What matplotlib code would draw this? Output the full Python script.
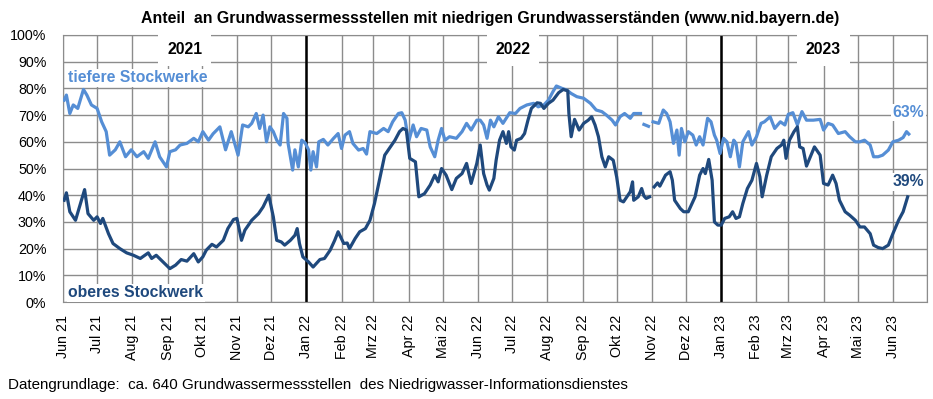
import numpy as np
import matplotlib
matplotlib.use('Agg')
import matplotlib.pyplot as plt
from matplotlib.ticker import FuncFormatter, MultipleLocator
import matplotlib.dates as mdates

plt.rcParams['font.family'] = ['Liberation Sans', 'DejaVu Sans']

start = np.datetime64('2021-06-01')

# tiefere Stockwerke: Tage seit 1.6.2021, Anteil in % (nan = Datenluecke)
tief_tag = [1, 3, 6, 9, 13, 18, 21, 25, 30, 34, 38, 41, 46, 50, 55, 60, 65, 71, 75, 81,
            85, 91, 94, 99, 103, 109, 115, 119, 123, 128, 132, 138, 143, 148, 154, 158,
            163, 166, 170, 173, 176, 179,
            182, 185, 188, 191, 194, 197, 198, 202, 204, 207, 210, 213, 216, 218, 220,
            223, 225, 229, 233, 238, 242, 245, 248, 252, 255, 260, 264, 267, 270, 276,
            282, 286, 290, 295, 298, 301, 304, 308, 311, 315, 320, 323, 327, 330, 333,
            336, 340, 346, 351, 355, 359, 364,
            367, 370, 373, 376, 379, 383, 387, 393, 398, 402, 408, 414, 418, 423, 427,
            431, 434, 439, 443, 447, 452, 458, 464, 469, 474, 478, 483, 486, 490, 494,
            499, 502, 505, 508, 509, 511, 515, 517, 519, 524, 528, 531, 534, 537, 540,
            542, 544, 547, 550,
            554, 557, 560, 563, 567, 570, 573, 575, 578, 581, 584, 587, 590, 592, 595,
            598, 603, 606, 610, 614, 617, 622, 626, 631, 635, 638, 642, 646, 650, 654,
            660, 666, 669, 673, 677, 682, 688, 692, 697, 701, 705, 710, 713, 717, 721,
            726, 730, 735, 739, 742, 744]
tief_pct = [75.6, 77.5, 70.6, 73.8, 72.5, 79.6, 77.5, 73.8, 72.5, 67.5, 63.8, 55.0, 57.0,
            60.0, 54.4, 57.0, 54.4, 56.3, 53.8, 60.0, 54.4, 50.6, 56.3, 57.0, 58.8, 59.4,
            61.3, 60.0, 63.8, 60.6, 63.0, 65.6, 57.0, 63.8, 55.0, 66.3, 65.6, 66.9, 70.6,
            65.0, 70.0, 60.0,
            65.6, 63.8, 60.6, 58.8, 70.6, 68.8, 59.4, 49.4, 57.0, 50.6, 60.6, 59.6, 57.0,
            49.4, 56.3, 50.6, 60.0, 60.9, 58.8, 61.3, 63.1, 57.5, 62.5, 63.8, 59.4, 56.9,
            57.5, 55.4, 63.8, 63.1, 65.0, 63.8, 67.5, 70.6, 70.9, 68.1, 60.0, 66.3, 61.9,
            65.0, 64.4, 58.1, 54.4, 60.6, 65.0, 60.6, 61.9, 61.3, 63.8, 66.9, 64.4, 68.1,
            68.1, 66.3, 61.3, 68.1, 65.6, 69.4, 66.9, 70.9, 70.6, 72.5, 73.8, 74.4, 73.1,
            73.8, 75.6, 78.8, 80.9, 80.0, 79.4, 78.1, 76.9, 76.3, 74.4, 71.9, 71.3, 70.0,
            68.1, 66.3, 69.4, 70.6, 68.8, 70.6, 70.6, 70.6, np.nan, 66.5, 65.8, np.nan,
            67.5, 66.9, 71.9, 70.6, 67.5, 59.4, 64.4, 55.0, 65.0, 60.0, 63.8,
            62.5, 58.8, 61.9, 58.8, 68.8, 67.5, 62.5, 60.6, 55.6, 61.3, 60.0, 54.4, 60.6,
            59.4, 50.6, 60.0, 63.8, 58.8, 61.9, 66.9, 67.5, 69.4, 65.0, 67.5, 66.3, 70.3,
            70.9, 66.3, 71.3, 68.1, 68.1, 68.4, 64.4, 66.9, 66.3, 63.1, 63.8, 61.9, 60.0,
            60.0, 60.6, 58.8, 54.4, 54.4, 55.0, 56.9, 60.0, 60.6, 61.6, 63.8, 62.9]

# oberes Stockwerk
ober_tag = [1, 3, 6, 11, 15, 19, 22, 27, 30, 33, 35, 40, 44, 50, 56, 62, 68, 75, 78, 82,
            88, 94, 99, 104, 109, 115, 119, 123, 126, 131, 135, 141, 145, 150, 153, 157,
            160, 166, 172, 176, 181,
            185, 188, 192, 195, 200, 204, 206, 208, 211, 216, 220, 226, 230, 235, 239,
            242, 247, 250, 252, 257, 261, 266, 270, 274, 279, 283, 288, 292, 296, 299,
            302, 305, 310, 313, 318, 323, 327, 330, 333, 337, 342, 346, 351, 355, 359,
            364,
            367, 370, 373, 375, 379, 381, 384, 387, 390, 392, 394, 397, 399, 403, 406,
            409, 412, 417, 420, 423, 427, 431, 436, 440, 444, 445, 447, 450, 454, 458,
            462, 465, 468, 471, 474, 477, 480, 484, 487, 490, 493, 496, 499, 501, 502,
            506, 509, 511, 513, 516, 518, 520, 523, 525, 530, 534, 536, 538, 543, 546,
            550,
            556, 560, 563, 565, 568, 571, 573, 576, 579, 582, 586, 589, 592, 595, 598,
            602, 606, 610, 613, 615, 619, 623, 628, 632, 634, 636, 639, 643, 646, 648,
            651, 654, 658, 661, 666, 669, 673, 677, 680, 683, 688, 692, 697, 701, 705,
            710, 713, 717, 721, 726, 730, 735, 739, 743]
ober_pct = [38.1, 40.9, 33.8, 30.6, 36.3, 42.1, 33.1, 30.6, 31.9, 29.4, 31.3, 25.6, 21.9,
            20.0, 18.4, 17.5, 16.3, 18.4, 16.3, 17.5, 15.0, 12.5, 13.8, 15.9, 15.3, 18.1,
            15.0, 16.9, 19.4, 21.6, 20.6, 23.1, 27.5, 30.9, 31.3, 23.1, 26.9, 30.6, 33.1,
            35.6, 40.0,
            31.9, 23.1, 22.5, 21.3, 23.1, 25.0, 27.5, 21.9, 16.9, 15.0, 13.1, 15.9, 16.3,
            19.4, 23.1, 26.3, 21.9, 22.1, 20.0, 23.8, 26.3, 27.5, 30.6, 36.9, 46.9, 55.0,
            58.1, 60.6, 63.8, 65.0, 64.4, 53.8, 52.5, 39.4, 40.6, 43.8, 47.5, 45.0, 50.0,
            47.5, 42.1, 46.3, 48.1, 51.9, 44.4, 51.9,
            58.8, 48.1, 43.8, 41.9, 46.3, 53.1, 60.6, 63.8, 59.4, 63.8, 58.1, 56.9, 60.6,
            61.3, 63.1, 68.1, 72.5, 74.6, 74.4, 72.5, 74.4, 75.6, 78.4, 79.6, 79.1, 70.6,
            61.9, 68.4, 64.4, 66.9, 68.1, 69.4, 66.3, 61.9, 54.4, 50.6, 54.4, 53.1, 46.9,
            38.1, 37.5, 39.4, 41.3, 45.0, 38.1, 39.4, 42.5, 39.7, 38.8, 39.4, np.nan,
            43.1, 44.6, 43.4, 47.5, 48.8, 45.6, 38.1, 35.0, 33.8, 33.8,
            39.4, 47.5, 50.0, 48.1, 53.4, 45.6, 30.0, 28.8, 28.8, 31.3, 31.9, 33.8, 31.3,
            31.9, 36.9, 42.5, 45.6, 51.9, 46.9, 39.4, 47.5, 54.4, 57.5, 58.8, 60.6, 53.8,
            60.6, 63.8, 65.6, 58.1, 57.5, 50.9, 55.0, 58.1, 55.0, 44.4, 43.8, 47.5, 44.4,
            38.1, 33.8, 32.5, 30.6, 28.1, 28.1, 25.6, 21.3, 20.4, 20.0, 21.3, 25.6, 30.6,
            33.8, 39.4]

monate = ['Jan', 'Feb', 'Mrz', 'Apr', 'Mai', 'Jun', 'Jul', 'Aug', 'Sep', 'Okt', 'Nov', 'Dez']
jahre = [2021, 2022, 2023]
tief_label = 'tiefere Stockwerke'
ober_label = 'oberes Stockwerk'

c_tief = '#558ED5'
c_ober = '#1F497D'

x0 = np.datetime64('2021-06-01')
x1 = np.datetime64('2023-07-01')

fig = plt.figure(figsize=(9.33, 3.99), dpi=100)
ax = fig.add_axes([63 / 933, 97 / 399, 864 / 933, 267 / 399])

t_tief = start + np.array(tief_tag).astype('timedelta64[D]')
t_ober = start + np.array(ober_tag).astype('timedelta64[D]')
ax.plot(t_tief, tief_pct, color=c_tief, lw=2.3, zorder=3)
ax.plot(t_ober, ober_pct, color=c_ober, lw=2.3, zorder=3)

ax.set_xlim(x0, x1)
ax.set_ylim(0, 100)
ax.yaxis.set_major_locator(MultipleLocator(10))
ax.yaxis.set_major_formatter(FuncFormatter(lambda v, p: '%d%%' % v))

# Monatsanfaenge als Ticks (ohne den rechten Rand)
mon = np.arange('2021-06', '2023-07', dtype='datetime64[M]')
ax.set_xticks(mon.astype('datetime64[D]'))
ax.set_xticklabels(['%s %s' % (monate[int(str(m)[5:7]) - 1], str(m)[2:4]) for m in mon],
                   rotation=90)
ax.axvline(x1, color='#8c8c8c', lw=1, zorder=1)

ax.grid(True, color='#8c8c8c', lw=1)
ax.set_axisbelow(True)
for s in ax.spines.values():
    s.set_color('#8c8c8c')
ax.tick_params(length=0, labelsize=10.3)
ax.tick_params(axis='y', pad=12)
ax.tick_params(axis='x', pad=9)

# Jahreswechsel und Jahreszahlen
for j in jahre:
    if j > 2021:
        ax.axvline(np.datetime64('%d-01-01' % j), color='black', lw=1.8, zorder=2)
    a = max(x0, np.datetime64('%d-01-01' % j))
    b = min(x1, np.datetime64('%d-01-01' % (j + 1)))
    mid = a + (b - a) / 2
    ax.text(mid, 94.5, str(j), ha='center', va='center', fontsize=11.3, fontweight='bold',
            bbox=dict(facecolor='white', edgecolor='none', boxstyle='square,pad=0.55'), zorder=4)

ax.text(0.006, 0.84, tief_label, transform=ax.transAxes, color=c_tief, fontsize=11.3,
        fontweight='bold', va='center', ha='left',
        bbox=dict(facecolor='white', edgecolor='none', pad=1), zorder=4)
ax.text(0.006, 0.035, ober_label, transform=ax.transAxes, color=c_ober, fontsize=11.3,
        fontweight='bold', va='center', ha='left',
        bbox=dict(facecolor='white', edgecolor='none', pad=1), zorder=4)

# Endwerte
ax.text(0.997, 71, '%d%%' % round(tief_pct[-1]), transform=ax.get_yaxis_transform(),
        color=c_tief, fontsize=11.3, fontweight='bold', ha='right', va='center',
        bbox=dict(facecolor='white', edgecolor='none', pad=1), zorder=4)
ax.text(0.997, 45, '%d%%' % round(ober_pct[-1]), transform=ax.get_yaxis_transform(),
        color=c_ober, fontsize=11.3, fontweight='bold', ha='right', va='center',
        bbox=dict(facecolor='white', edgecolor='none', pad=1), zorder=4)

fig.text(0.525, 1 - 18 / 399,
         'Anteil  an Grundwassermessstellen mit niedrigen Grundwasserständen (www.nid.bayern.de)',
         ha='center', va='center', fontsize=11.4, fontweight='bold')
fig.text(8 / 933, 14 / 399,
         'Datengrundlage:  ca. 640 Grundwassermessstellen  des Niedrigwasser-Informationsdienstes',
         ha='left', va='center', fontsize=10.9)

fig.savefig('out.png', dpi=100)
